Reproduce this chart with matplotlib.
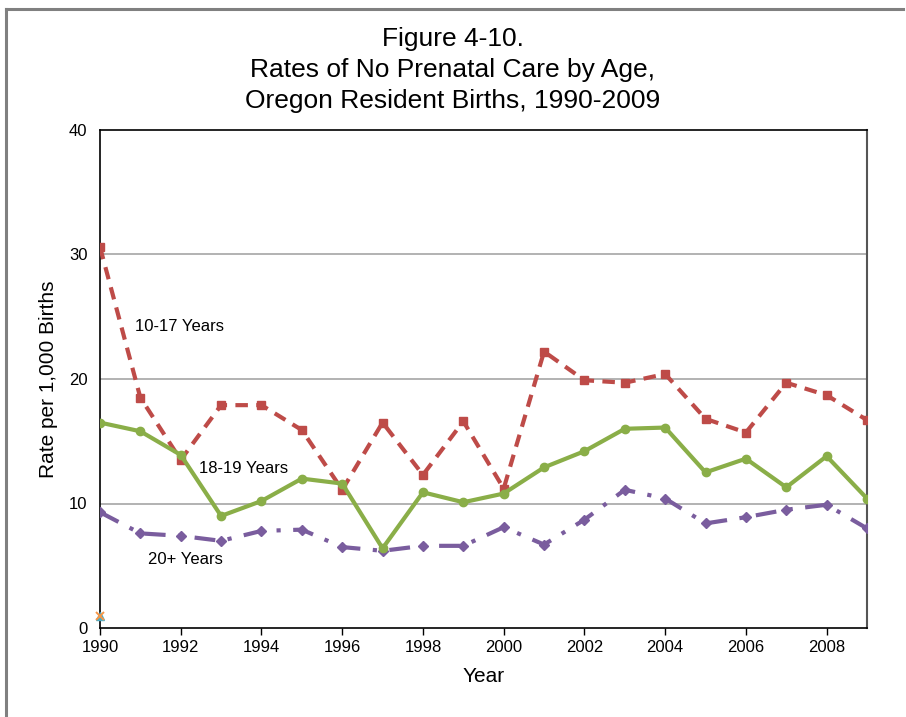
import matplotlib
matplotlib.use('Agg')
import matplotlib.pyplot as plt
from matplotlib.lines import Line2D

plt.rcParams['font.family'] = ['Liberation Sans', 'DejaVu Sans']

years = list(range(1990, 2010))
rate_10_17 = [30.6, 18.5, 13.5, 17.9, 17.9, 15.9, 11.1, 16.5, 12.3, 16.6,
              11.2, 22.2, 19.9, 19.7, 20.4, 16.8, 15.7, 19.7, 18.7, 16.7]
rate_18_19 = [16.5, 15.8, 13.9, 9.0, 10.2, 12.0, 11.6, 6.4, 10.9, 10.1,
              10.8, 12.9, 14.2, 16.0, 16.1, 12.5, 13.6, 11.3, 13.8, 10.4]
rate_20_up = [9.3, 7.6, 7.4, 7.0, 7.8, 7.9, 6.5, 6.2, 6.6, 6.6,
              8.1, 6.7, 8.7, 11.1, 10.4, 8.4, 8.9, 9.5, 9.9, 8.0]
stray_year = [1990]
stray_val = [1.0]

labels = ['10-17 Years', '18-19 Years', '20+ Years']
label_pos = [(1990.87, 24.2), (1992.45, 12.8), (1991.2, 5.5)]

fig = plt.figure(figsize=(9.06, 7.17), dpi=100)
ax = fig.add_axes([100 / 906, 1 - 628 / 717, 767 / 906, 498 / 717])

# outer frame (top and left only)
fig.add_artist(Line2D([6 / 906, 903 / 906], [1 - 9 / 717, 1 - 9 / 717], color='#808080', lw=2.2))
fig.add_artist(Line2D([6 / 906, 6 / 906], [0, 1 - 9 / 717], color='#808080', lw=2.2))

for y in [10, 20, 30]:
    ax.axhline(y, color='#a6a6a6', lw=1.2, zorder=1)

ax.plot(years, rate_10_17, color='#BE4B48', lw=3, ls=(0, (3, 2)), marker='s', ms=6, zorder=3)
ax.plot(years, rate_18_19, color='#8AAE48', lw=3, marker='o', ms=6, zorder=4)
ax.plot(years, rate_20_up, color='#7A5D9E', lw=3, ls=(0, (5, 3, 1, 3)), marker='D', ms=5.5, zorder=3)
ax.plot(stray_year, stray_val, color='#4BACC6', marker='^', ms=6, ls='none', zorder=5, clip_on=False)
ax.plot(stray_year, stray_val, color='#F79646', marker='x', ms=6, mew=1.4, ls='none', zorder=6, clip_on=False)

for text, (x, y) in zip(labels, label_pos):
    ax.text(x, y, text, fontsize=12, va='center', ha='left')

ax.set_xlim(1990, 2009)
ax.set_ylim(0, 40)
ax.set_xticks(range(1990, 2009, 2))
ax.set_yticks([0, 10, 20, 30, 40])
ax.tick_params(axis='x', length=5, width=1, labelsize=12, pad=4)
ax.tick_params(axis='y', length=0, labelsize=12, pad=9)
for s in ['left', 'bottom', 'top']:
    ax.spines[s].set_linewidth(1.2)
ax.spines['right'].set_color('#555555')
ax.spines['right'].set_linewidth(1.5)

ax.set_xlabel('Year', fontsize=15, labelpad=8)
ax.set_ylabel('Rate per 1,000 Births', fontsize=15, labelpad=8)
fig.text(0.5, 1 - 70 / 717, 'Figure 4-10.\nRates of No Prenatal Care by Age,\nOregon Resident Births, 1990-2009',
         ha='center', va='center', fontsize=19, linespacing=1.35)

fig.savefig('out.png', dpi=100)
